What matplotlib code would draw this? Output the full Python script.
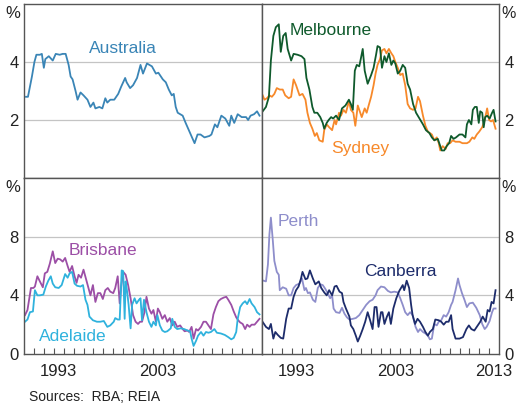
import matplotlib.pyplot as plt

plt.rcParams['font.family'] = ['Liberation Sans', 'DejaVu Sans']

# rental vacancy rates, per cent
aus_year = [1990.2, 1990.4, 1990.8, 1991.05, 1991.25, 1991.6, 1991.8, 1992.0, 1992.15, 1992.5, 1992.9,
            1993.2, 1993.6, 1993.9, 1994.2, 1994.5, 1994.7, 1994.9, 1995.2, 1995.4, 1995.7, 1996.0,
            1996.4, 1996.7, 1997.0, 1997.2, 1997.6, 1997.9, 1998.2, 1998.4, 1998.7, 1999.1, 1999.5,
            1999.8, 2000.2, 2000.35, 2000.7, 2001.0, 2001.4, 2001.75, 2002.0, 2002.4, 2002.9, 2003.3,
            2003.55, 2004.0, 2004.3, 2004.6, 2004.9, 2005.1, 2005.3, 2005.5, 2006.0, 2006.3, 2006.75,
            2007.2, 2007.5, 2007.8, 2008.2, 2008.7, 2008.9, 2009.25, 2009.5, 2009.9, 2010.3, 2010.7,
            2010.9, 2011.2, 2011.55, 2011.95, 2012.4, 2012.6, 2012.85, 2013.2, 2013.5, 2013.75]
aus_rate = [2.8, 2.8, 3.5, 4.0, 4.25, 4.25, 4.28, 3.8, 4.1, 4.2, 4.05,
            4.28, 4.25, 4.28, 4.28, 3.9, 3.5, 3.4, 3.0, 2.7, 2.95, 2.85,
            2.7, 2.45, 2.6, 2.4, 2.45, 2.4, 2.75, 2.6, 2.7, 2.7, 2.9,
            3.15, 3.45, 3.3, 3.1, 3.2, 3.45, 3.9, 3.6, 3.95, 3.85, 3.6,
            3.63, 3.4, 3.3, 3.05, 2.85, 2.9, 2.45, 2.25, 2.15, 1.9, 1.55,
            1.2, 1.5, 1.5, 1.4, 1.45, 1.5, 1.85, 1.75, 2.15, 2.05, 1.8,
            2.15, 1.9, 2.2, 2.1, 2.1, 2.0, 2.15, 2.2, 2.3, 2.15]

mel_year = [1990.07, 1990.4, 1990.7, 1990.9, 1991.15, 1991.4, 1991.7, 1991.9, 1992.15, 1992.4, 1992.6,
            1992.95, 1993.2, 1993.6, 1994.0, 1994.3, 1994.5, 1994.8, 1995.1, 1995.3, 1995.6, 1995.9,
            1996.15, 1996.3, 1996.55, 1996.75, 1997.0, 1997.2, 1997.5, 1997.8, 1998.1, 1998.45, 1998.8,
            1999.0, 1999.2, 1999.4, 1999.6, 1999.85, 2000.0, 2000.2, 2000.4, 2000.7, 2001.05, 2001.3,
            2001.55, 2001.7, 2001.95, 2002.15, 2002.4, 2002.6, 2002.85, 2003.1, 2003.3, 2003.5, 2003.75,
            2004.0, 2004.25, 2004.5, 2004.75, 2005.0, 2005.3, 2005.6, 2005.95, 2006.3, 2006.6, 2006.95,
            2007.2, 2007.45, 2007.8, 2008.0, 2008.2, 2008.45, 2008.7, 2008.95, 2009.15, 2009.4, 2009.65,
            2010.0, 2010.3, 2010.6, 2010.75, 2010.95, 2011.2, 2011.35, 2011.55, 2011.75, 2011.95, 2012.1,
            2012.3, 2012.45, 2012.6, 2012.8, 2013.05, 2013.3, 2013.45, 2013.65]
mel_rate = [2.3, 2.45, 2.8, 4.05, 4.9, 5.2, 5.3, 4.35, 4.9, 5.0, 4.45,
            4.05, 4.28, 4.25, 4.2, 4.1, 3.45, 3.05, 2.45, 2.25, 2.25, 2.1,
            1.9, 1.7, 1.9, 2.0, 2.1, 2.05, 2.15, 2.0, 2.4, 2.5, 2.7,
            2.55, 2.35, 3.7, 3.9, 3.85, 4.1, 4.45, 3.7, 3.25, 3.55, 3.8,
            4.25, 4.55, 4.5, 3.8, 4.2, 4.0, 4.3, 3.9, 4.05, 3.95, 3.6,
            3.7, 3.9, 3.8, 3.25, 3.05, 2.55, 2.25, 2.05, 1.85, 1.65, 1.55,
            1.4, 1.3, 1.35, 1.15, 0.95, 0.95, 1.1, 1.2, 1.45, 1.35, 1.4,
            1.5, 1.5, 1.4, 1.85, 2.0, 1.85, 2.35, 2.45, 2.45, 1.9, 2.3,
            2.25, 1.75, 2.1, 2.15, 2.05, 2.25, 2.35, 1.95]

syd_year = [1990.07, 1990.25, 1990.5, 1990.75, 1991.0, 1991.25, 1991.5, 1991.8, 1992.1, 1992.35, 1992.7,
            1992.95, 1993.2, 1993.45, 1993.8, 1994.1, 1994.4, 1994.6, 1994.85, 1995.1, 1995.35, 1995.55,
            1995.8, 1996.15, 1996.3, 1996.55, 1996.8, 1997.1, 1997.35, 1997.5, 1997.8, 1998.0, 1998.25,
            1998.5, 1998.8, 1999.0, 1999.25, 1999.45, 1999.7, 1999.9, 2000.1, 2000.4, 2000.6, 2000.8,
            2001.05, 2001.3, 2001.5, 2001.7, 2001.95, 2002.15, 2002.4, 2002.6, 2002.85, 2003.1, 2003.3,
            2003.5, 2003.75, 2004.0, 2004.25, 2004.5, 2004.75, 2005.0, 2005.3, 2005.55, 2005.8, 2006.0,
            2006.3, 2006.55, 2006.8, 2007.0, 2007.2, 2007.45, 2007.7, 2007.9, 2008.05, 2008.3, 2008.6,
            2008.8, 2009.05, 2009.3, 2009.6, 2010.0, 2010.3, 2010.75, 2011.0, 2011.3, 2011.5, 2011.75,
            2012.0, 2012.3, 2012.55, 2012.8, 2013.0, 2013.2, 2013.4, 2013.65]
syd_rate = [2.85, 2.7, 2.75, 2.85, 2.8, 2.9, 3.1, 3.05, 3.05, 2.85, 2.75,
            2.8, 3.4, 3.2, 2.85, 2.9, 2.7, 2.25, 1.9, 1.7, 1.45, 1.55,
            1.3, 1.25, 1.65, 1.85, 1.75, 1.65, 2.0, 1.85, 2.25, 2.15, 2.35,
            2.25, 2.65, 2.35, 2.25, 1.8, 2.5, 2.3, 2.1, 2.4, 2.25, 2.5,
            2.8, 3.2, 3.6, 3.9, 4.1, 4.4, 4.45, 4.3, 4.45, 4.3, 4.2,
            4.0, 3.8, 3.55, 3.6, 3.2, 2.55, 2.4, 2.35, 2.4, 2.8, 2.65,
            2.15, 1.8, 1.6, 1.55, 1.5, 1.3, 1.4, 1.2, 0.95, 1.1, 1.0,
            1.2, 1.2, 1.3, 1.25, 1.25, 1.2, 1.2, 1.25, 1.4, 1.35, 1.5,
            1.6, 1.75, 2.0, 2.4, 2.0, 1.95, 2.0, 1.7]

bri_year = [1990.1, 1990.35, 1990.7, 1990.95, 1991.1, 1991.35, 1991.6, 1991.9, 1992.1, 1992.35, 1992.6,
            1992.9, 1993.15, 1993.4, 1993.65, 1993.9, 1994.15, 1994.4, 1994.6, 1994.85, 1995.1, 1995.3,
            1995.5, 1995.75, 1996.0, 1996.3, 1996.5, 1996.7, 1996.95, 1997.2, 1997.45, 1997.7, 1997.95,
            1998.2, 1998.45, 1998.7, 1999.0, 1999.2, 1999.45, 1999.65, 1999.8, 2000.0, 2000.25, 2000.5,
            2000.75, 2001.0, 2001.25, 2001.5, 2001.7, 2001.9, 2002.15, 2002.35, 2002.6, 2002.85, 2003.05,
            2003.3, 2003.5, 2003.7, 2003.95, 2004.2, 2004.45, 2004.7, 2004.95, 2005.2, 2005.45, 2005.75,
            2006.0, 2006.2, 2006.5, 2006.65, 2006.9, 2007.1, 2007.35, 2007.55, 2007.85, 2008.1, 2008.35,
            2008.6, 2008.85, 2009.1, 2009.35, 2009.6, 2009.85, 2010.15, 2010.4, 2010.6, 2010.9, 2011.15,
            2011.4, 2011.6, 2011.8, 2012.05, 2012.3, 2012.5, 2012.75, 2012.95, 2013.25, 2013.5, 2013.75]
bri_rate = [2.65, 3.0, 4.5, 4.5, 4.6, 5.3, 4.95, 4.55, 5.5, 5.6, 6.15,
            7.0, 6.2, 6.5, 6.45, 6.3, 6.55, 6.0, 5.6, 6.0, 5.3, 4.85,
            5.4, 5.2, 5.75, 5.0, 4.5, 4.0, 4.7, 3.55, 4.15, 4.15, 3.75,
            4.35, 4.5, 4.25, 4.15, 4.5, 5.3, 3.45, 4.6, 5.6, 5.4, 4.7,
            3.8, 2.65, 2.2, 2.05, 2.2, 2.2, 2.85, 3.9, 3.1, 2.75, 3.0,
            2.2, 3.1, 2.85, 2.4, 2.65, 2.2, 2.45, 1.95, 2.2, 1.85, 1.95,
            1.7, 1.55, 1.6, 1.5, 1.85, 1.05, 1.7, 1.6, 1.85, 2.2, 2.2,
            1.95, 1.7, 2.7, 3.2, 3.6, 3.75, 3.85, 3.9, 3.7, 3.35, 2.9,
            2.5, 2.3, 2.15, 2.05, 1.7, 2.0, 1.85, 2.0, 2.0, 2.2, 2.4]

ade_year = [1990.1, 1990.35, 1990.6, 1990.9, 1991.1, 1991.35, 1991.6, 1991.95, 1992.2, 1992.45, 1992.7,
            1992.9, 1993.15, 1993.5, 1993.8, 1994.15, 1994.4, 1994.6, 1994.85, 1995.1, 1995.35, 1995.7,
            1995.95, 1996.2, 1996.4, 1996.6, 1996.95, 1997.35, 1997.7, 1998.05, 1998.4, 1998.7, 1999.05,
            1999.2, 1999.45, 1999.65, 1999.85, 2000.0, 2000.15, 2000.25, 2000.4, 2000.55, 2000.75, 2000.9,
            2001.15, 2001.35, 2001.6, 2001.75, 2001.9, 2002.1, 2002.35, 2002.6, 2002.85, 2003.05, 2003.3,
            2003.45, 2003.7, 2003.95, 2004.2, 2004.45, 2004.8, 2004.95, 2005.2, 2005.45, 2005.8, 2006.15,
            2006.5, 2006.75, 2006.9, 2007.1, 2007.35, 2007.55, 2007.85, 2008.1, 2008.35, 2008.6, 2008.85,
            2009.2, 2009.45, 2009.85, 2010.25, 2010.6, 2010.9, 2011.15, 2011.4, 2011.55, 2011.8, 2012.05,
            2012.3, 2012.5, 2012.75, 2012.95, 2013.25, 2013.5, 2013.75]
ade_rate = [2.2, 2.35, 2.85, 2.9, 4.35, 4.0, 4.0, 4.05, 4.6, 5.0, 5.3,
            4.8, 4.55, 4.5, 4.7, 5.45, 5.2, 5.5, 5.6, 4.8, 4.65, 4.6,
            4.7, 3.7, 3.35, 2.55, 2.3, 2.2, 2.2, 2.25, 1.85, 1.95, 2.2,
            2.45, 2.35, 2.35, 5.7, 5.65, 2.4, 4.95, 4.25, 3.35, 1.75, 3.35,
            3.8, 3.45, 3.7, 3.8, 2.3, 3.7, 2.85, 2.2, 1.85, 2.2, 1.95,
            2.65, 1.95, 1.6, 1.5, 1.55, 1.75, 2.4, 1.85, 1.7, 1.75, 1.7,
            1.6, 1.55, 1.05, 0.55, 0.9, 1.25, 1.5, 1.25, 1.5, 1.45, 1.5,
            1.7, 1.45, 1.4, 1.3, 1.15, 1.0, 1.1, 1.5, 2.4, 3.2, 3.45,
            3.6, 3.4, 3.75, 3.45, 3.2, 2.85, 2.7]

per_year = [1990.15, 1990.4, 1990.6, 1990.75, 1990.9, 1991.1, 1991.25, 1991.5, 1991.7, 1991.8, 1992.1,
            1992.45, 1992.7, 1992.95, 1993.2, 1993.45, 1993.8, 1994.05, 1994.3, 1994.45, 1994.65, 1994.85,
            1995.15, 1995.4, 1995.65, 1995.9, 1996.15, 1996.4, 1996.65, 1996.9, 1997.1, 1997.25, 1997.5,
            1997.85, 1998.1, 1998.35, 1998.6, 1998.85, 1999.2, 1999.5, 1999.85, 2000.2, 2000.55, 2000.9,
            2001.2, 2001.5, 2001.7, 2002.05, 2002.4, 2002.75, 2003.05, 2003.4, 2003.75, 2004.0, 2004.25,
            2004.5, 2004.75, 2005.0, 2005.25, 2005.55, 2005.8, 2006.0, 2006.3, 2006.55, 2006.8, 2007.0,
            2007.2, 2007.45, 2007.7, 2007.9, 2008.15, 2008.4, 2008.65, 2008.9, 2009.15, 2009.3, 2009.6,
            2009.85, 2010.0, 2010.25, 2010.5, 2010.75, 2011.0, 2011.35, 2011.7, 2012.05, 2012.3, 2012.55,
            2012.75, 2013.05, 2013.3, 2013.45, 2013.65]
per_rate = [5.0, 4.95, 6.1, 8.15, 9.3, 7.7, 6.35, 5.6, 5.4, 4.35, 4.55,
            4.45, 4.0, 4.0, 4.5, 4.7, 4.8, 5.15, 4.35, 4.5, 4.15, 4.2,
            3.7, 3.55, 4.5, 4.75, 4.7, 4.45, 4.15, 3.8, 4.0, 3.1, 2.85,
            2.8, 3.15, 2.75, 2.5, 2.35, 2.4, 2.45, 2.65, 3.0, 3.35, 3.6,
            3.7, 4.0, 4.35, 4.6, 4.55, 4.3, 4.2, 4.25, 4.2, 3.8, 3.35,
            2.85, 2.65, 2.85, 2.65, 1.85, 1.5, 1.7, 1.5, 1.4, 1.25, 1.0,
            1.05, 2.05, 1.95, 2.2, 2.3, 2.65, 2.55, 2.85, 3.35, 3.55, 4.35,
            5.15, 4.7, 4.15, 3.7, 3.2, 3.45, 3.5, 3.15, 2.65, 2.05, 1.7,
            1.85, 2.25, 2.85, 3.1, 3.1]

can_year = [1990.05, 1990.4, 1990.7, 1990.9, 1991.15, 1991.35, 1991.6, 1991.9, 1992.15, 1992.45, 1992.7,
            1992.95, 1993.2, 1993.45, 1993.7, 1993.95, 1994.1, 1994.4, 1994.6, 1994.85, 1995.15, 1995.4,
            1995.75, 1996.0, 1996.3, 1996.55, 1996.8, 1997.1, 1997.35, 1997.55, 1997.85, 1998.1, 1998.25,
            1998.5, 1998.85, 1999.0, 1999.25, 1999.5, 1999.7, 1999.95, 2000.2, 2000.45, 2000.7, 2000.95,
            2001.2, 2001.4, 2001.6, 2001.8, 2002.05, 2002.2, 2002.4, 2002.65, 2002.85, 2003.05, 2003.3,
            2003.6, 2003.9, 2004.25, 2004.4, 2004.65, 2004.9, 2005.1, 2005.25, 2005.5, 2005.75, 2006.0,
            2006.3, 2006.55, 2006.8, 2007.0, 2007.3, 2007.55, 2007.9, 2008.15, 2008.4, 2008.65, 2008.9,
            2009.15, 2009.3, 2009.6, 2010.0, 2010.35, 2010.7, 2010.95, 2011.2, 2011.5, 2011.85, 2012.1,
            2012.35, 2012.65, 2012.85, 2013.05, 2013.25, 2013.45, 2013.65]
can_rate = [2.2, 1.85, 1.7, 2.05, 1.05, 1.5, 1.3, 1.1, 1.05, 2.4, 3.1,
            3.1, 3.9, 4.35, 4.6, 5.15, 5.6, 5.1, 5.15, 5.7, 5.15, 4.75,
            4.95, 4.5, 4.2, 4.0, 4.35, 4.0, 4.6, 4.65, 4.25, 4.15, 3.55,
            3.1, 2.55, 1.95, 1.7, 1.25, 0.85, 1.25, 1.7, 2.2, 2.85, 2.3,
            1.7, 3.2, 3.2, 1.85, 2.85, 2.85, 2.05, 2.55, 2.85, 2.05, 3.1,
            3.8, 4.3, 4.7, 4.35, 5.0, 4.5, 3.35, 2.65, 2.05, 2.4, 2.2,
            1.85, 1.5, 1.25, 1.5, 1.7, 2.35, 2.3, 2.2, 2.0, 2.2, 2.2,
            2.65, 1.7, 1.05, 1.05, 1.15, 1.7, 1.95, 1.7, 1.6, 1.95, 2.2,
            2.55, 2.2, 3.0, 2.9, 3.55, 3.45, 4.35]

tick_years = list(range(1991, 2014))
label_years = ['1993', '2003', '2013']

ink = '#222222'
grid_col = '#c4c4c4'
spine_col = '#555555'

fig = plt.figure(figsize=(5.16, 4.09), dpi=100)
W, H = 516, 409


def make_ax(x0, y0, w, h):
    return fig.add_axes([x0 / W, 1 - (y0 + h) / H, w / W, h / H])


ax_tl = make_ax(24, 4, 238, 174)
ax_tr = make_ax(262, 4, 237, 174)
ax_bl = make_ax(24, 178, 238, 176)
ax_br = make_ax(262, 178, 237, 176)

for ax in (ax_tl, ax_tr, ax_bl, ax_br):
    ax.set_xlim(1990, 2014)
    for s in ax.spines.values():
        s.set_color(spine_col)
        s.set_linewidth(1.0)
    ax.tick_params(axis='y', length=0, labelsize=12, labelcolor=ink, pad=4)

for ax in (ax_tl, ax_tr):
    ax.set_ylim(0, 6)
    ax.set_yticks([2, 4])
    ax.set_xticks([])
    for v in (2, 4):
        ax.axhline(v, color=grid_col, lw=0.9, zorder=0)

for ax in (ax_bl, ax_br):
    ax.set_ylim(0, 12)
    ax.set_yticks([0, 4, 8])
    for v in (4, 8):
        ax.axhline(v, color=grid_col, lw=0.9, zorder=0)
    ax.set_xticks(tick_years, minor=True)
    ax.tick_params(axis='x', which='minor', direction='in', length=4, width=0.8, color=spine_col)
    ax.tick_params(axis='x', which='major', length=0, labelsize=12, labelcolor=ink, pad=7)

ax_bl.set_xticks([1993.5, 2003.5])
ax_bl.set_xticklabels(label_years[:2])
ax_br.set_xticks([1993.5, 2003.5, 2013.5])
ax_br.set_xticklabels(label_years)

for ax in (ax_tr, ax_br):
    ax.yaxis.tick_right()

# per cent signs at the top of each axis
for ax in (ax_tl, ax_bl):
    ax.text(-0.017, 0.945, '%', transform=ax.transAxes, ha='right', va='center', fontsize=12, color=ink)
for ax in (ax_tr, ax_br):
    ax.text(1.008, 0.945, '%', transform=ax.transAxes, ha='left', va='center', fontsize=11.5, color=ink)

c_aus = '#3a85b6'
c_mel = '#0f5a2c'
c_syd = '#f7892a'
c_bri = '#9c4fa6'
c_ade = '#2fb2dd'
c_per = '#8e8ecb'
c_can = '#1d2c6b'
lw = 1.3

ax_tl.plot(aus_year, aus_rate, color=c_aus, lw=lw)
ax_tr.plot(syd_year, syd_rate, color=c_syd, lw=lw)
ax_tr.plot(mel_year, mel_rate, color=c_mel, lw=lw)
ax_bl.plot(bri_year, bri_rate, color=c_bri, lw=lw)
ax_bl.plot(ade_year, ade_rate, color=c_ade, lw=lw)
ax_br.plot(per_year, per_rate, color=c_per, lw=lw)
ax_br.plot(can_year, can_rate, color=c_can, lw=lw)

fs = 12.5
ax_tl.text(2000.0, 4.48, 'Australia', color=c_aus, fontsize=fs, ha='center', va='center')
ax_tr.text(1997.0, 5.1, 'Melbourne', color=c_mel, fontsize=fs, ha='center', va='center')
ax_tr.text(2000.0, 1.0, 'Sydney', color=c_syd, fontsize=fs, ha='center', va='center')
ax_bl.text(1998.0, 7.03, 'Brisbane', color=c_bri, fontsize=fs, ha='center', va='center')
ax_bl.text(1994.96, 1.17, 'Adelaide', color=c_ade, fontsize=fs, ha='center', va='center')
ax_br.text(1993.65, 9.03, 'Perth', color=c_per, fontsize=fs, ha='center', va='center')
ax_br.text(2004.0, 5.65, 'Canberra', color=c_can, fontsize=fs, ha='center', va='center')

fig.text(29 / W, 1 - 397 / H, 'Sources:  RBA; REIA', fontsize=10, color=ink, ha='left', va='center')

fig.savefig('out.png', dpi=100)
